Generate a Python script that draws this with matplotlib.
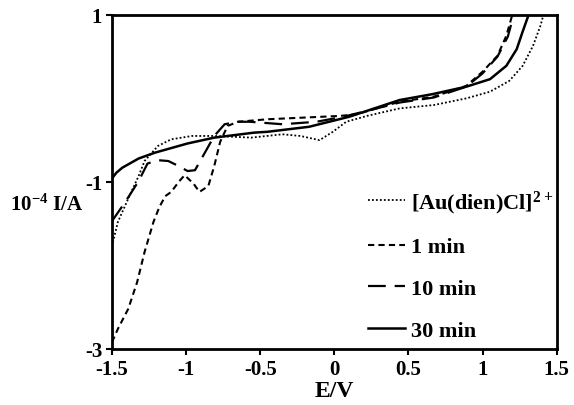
import matplotlib.pyplot as plt
import numpy as np

plt.rcParams['font.family'] = ['Liberation Serif', 'DejaVu Serif']
plt.rcParams['font.weight'] = 'bold'
plt.rcParams['mathtext.default'] = 'regular'

# [Au(dien)Cl]2+
e_au = [-1.5, -1.46, -1.39, -1.32, -1.28, -1.19, -1.10, -0.96, -0.81, -0.68, -0.56, -0.35, -0.23, -0.10,
        -0.01, 0.08, 0.22, 0.44, 0.67, 0.89, 1.05, 1.18, 1.27, 1.34, 1.39, 1.41]
i_au = [-1.77, -1.48, -1.20, -0.93, -0.75, -0.57, -0.49, -0.45, -0.45, -0.46, -0.47, -0.43, -0.45, -0.50,
        -0.40, -0.28, -0.21, -0.12, -0.08, 0.0, 0.08, 0.21, 0.39, 0.63, 0.87, 1.0]

# 1 min
e_1 = [-1.5, -1.46, -1.39, -1.33, -1.28, -1.22, -1.18, -1.14, -1.10, -1.05, -1.01, -0.95, -0.91, -0.85,
       -0.81, -0.77, -0.72, -0.65, -0.45, 0.04, 0.15, 0.44, 0.67, 0.89, 1.0, 1.10, 1.16, 1.20]
i_1 = [-2.92, -2.76, -2.52, -2.20, -1.84, -1.48, -1.30, -1.17, -1.12, -1.0, -0.92, -1.02, -1.12, -1.05,
       -0.81, -0.52, -0.33, -0.28, -0.25, -0.21, -0.19, -0.04, 0.02, 0.15, 0.32, 0.51, 0.75, 1.0]

# 10 min
e_10 = [-1.5, -1.41, -1.32, -1.26, -1.19, -1.12, -1.05, -0.99, -0.94, -0.87, -0.81, -0.74, -0.65, -0.57,
        -0.35, -0.12, 0.06, 0.22, 0.44, 0.67, 0.89, 1.0, 1.10, 1.17, 1.21]
i_10 = [-1.47, -1.24, -0.99, -0.78, -0.74, -0.75, -0.81, -0.87, -0.86, -0.64, -0.45, -0.31, -0.28, -0.28,
        -0.31, -0.28, -0.22, -0.15, -0.05, 0.01, 0.14, 0.30, 0.50, 0.74, 1.0]

# 30 min
e_30 = [-1.5, -1.47, -1.43, -1.32, -1.21, -0.99, -0.81, -0.54, -0.45, -0.17, 0.10, 0.44, 0.66, 0.89, 1.05,
        1.16, 1.23, 1.27, 1.31]
i_30 = [-0.96, -0.89, -0.83, -0.72, -0.65, -0.54, -0.47, -0.41, -0.40, -0.34, -0.22, -0.02, 0.05, 0.14, 0.23,
        0.39, 0.59, 0.80, 1.0]

fig = plt.figure(figsize=(5.74, 4.06), dpi=100)
ax = fig.add_axes([0.195, 0.138, 0.775, 0.823])

ax.plot(e_au, i_au, color='black', lw=1.3, ls=(0, (1, 1.2)), label='[Au(dien)Cl]$^{2+}$')
ax.plot(e_1, i_1, color='black', lw=1.5, ls=(0, (3, 2)), label='1 min')
ax.plot(e_10, i_10, color='black', lw=1.6, ls=(0, (8, 4)), label='10 min')
ax.plot(e_30, i_30, color='black', lw=1.8, ls='-', label='30 min')

ax.set_xlim(-1.5, 1.5)
ax.set_ylim(-3, 1)
ax.set_xticks([-1.5, -1, -0.5, 0, 0.5, 1, 1.5])
ax.set_xticklabels(['-1.5', '-1', '-0.5', '0', '0.5', '1', '1.5'])
ax.set_yticks([-3, -1, 1])
ax.set_yticklabels(['-3', '-1', '1'])
ax.tick_params(labelsize=15, width=1.5, length=4, direction='out', pad=3)
for s in ax.spines.values():
    s.set_linewidth(2)

ax.set_xlabel('E/V', fontsize=17, fontweight='bold', labelpad=1)
fig.text(47 / 574, 1 - 205 / 406, '10$^{-4}$ I/A', fontsize=15, fontweight='bold',
         ha='center', va='center')

ax.legend(loc='upper left', bbox_to_anchor=(0.53, 0.54), frameon=False, fontsize=16,
          handlelength=1.7, handletextpad=0.25, labelspacing=0.95)

fig.savefig('out.png', dpi=100)
